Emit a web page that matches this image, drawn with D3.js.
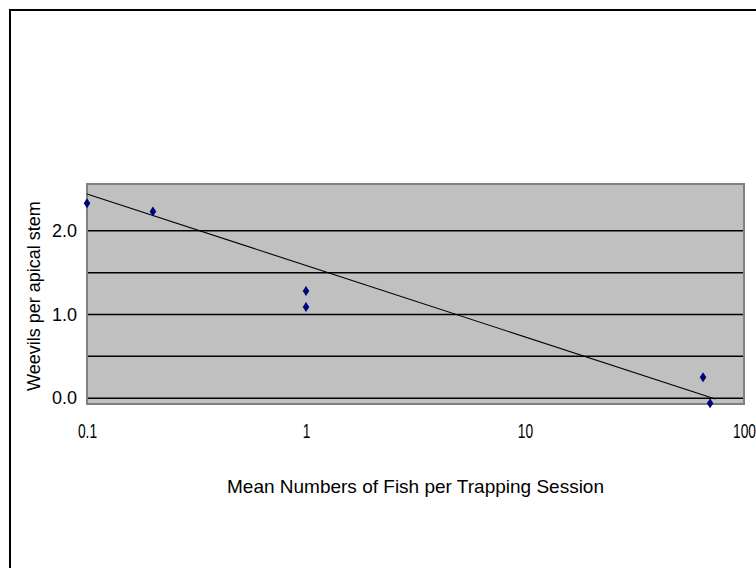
<!DOCTYPE html>
<html>
<head>
<meta charset="utf-8">
<script src="https://cdn.jsdelivr.net/npm/d3@7/dist/d3.min.js"></script>
<style>
  html, body { margin: 0; padding: 0; background: #fff; }
  svg { display: block; }
</style>
</head>
<body>
<svg id="chart" width="756" height="568"></svg>
<script>
// ---- data ----
const fishMeans = [0.1, 0.2, 1, 1, 65, 70];
const weevilsPerStem = [2.33, 2.23, 1.28, 1.09, 0.25, -0.06];
const trendFish = [0.1, 74];
const trendWeevils = [2.44, -0.01];
const xTickValues = [0.1, 1, 10, 100];
const xTickLabels = ["0.1", "1", "10", "100"];
const yTickValues = [0, 1, 2];
const yTickLabels = ["0.0", "1.0", "2.0"];
const gridValues = [0, 0.5, 1, 1.5, 2];
const xTitle = "Mean Numbers of Fish per Trapping Session";
const yTitle = "Weevils per apical stem";

// ---- layout ----
const svg = d3.select("#chart");
const plot = { left: 87, right: 744, top: 184, bottom: 404 };

const x = d3.scaleLog().domain([0.1, 100]).range([plot.left, plot.right]);
const y = d3.scaleLinear().domain([-0.07, 2.56]).range([plot.bottom, plot.top]);

// outer chart frame
svg.append("rect")
  .attr("x", 10).attr("y", 10)
  .attr("width", 770).attr("height", 580)
  .attr("fill", "#fff")
  .attr("stroke", "#000").attr("stroke-width", 2);

// plot area
svg.append("rect")
  .attr("x", plot.left).attr("y", plot.top)
  .attr("width", plot.right - plot.left).attr("height", plot.bottom - plot.top)
  .attr("fill", "#c0c0c0");

// gridlines
svg.append("g").selectAll("line").data(gridValues).join("line")
  .attr("x1", plot.left).attr("x2", plot.right)
  .attr("y1", d => y(d)).attr("y2", d => y(d))
  .attr("stroke", "#000").attr("stroke-width", 1.5);

// plot border
svg.append("rect")
  .attr("x", plot.left).attr("y", plot.top)
  .attr("width", plot.right - plot.left).attr("height", plot.bottom - plot.top)
  .attr("fill", "none")
  .attr("stroke", "#808080").attr("stroke-width", 2);

// trend line
const trend = trendFish.map((f, i) => [f, trendWeevils[i]]);
svg.append("path")
  .datum(trend)
  .attr("d", d3.line().x(d => x(d[0])).y(d => y(d[1])))
  .attr("fill", "none").attr("stroke", "#000").attr("stroke-width", 1.1);

// markers (diamonds)
const pts = fishMeans.map((f, i) => [f, weevilsPerStem[i]]);
svg.append("g").selectAll("path").data(pts).join("path")
  .attr("transform", d => `translate(${x(d[0])},${y(d[1])})`)
  .attr("d", "M0,-5L3.3,0L0,5L-3.3,0Z")
  .attr("fill", "#000080");

// x axis
const xAxis = svg.append("g")
  .attr("transform", `translate(0,${plot.bottom})`)
  .call(d3.axisBottom(x).tickValues(xTickValues).tickSize(0)
    .tickFormat((d, i) => xTickLabels[i]));
xAxis.select(".domain").remove();
const xText = xAxis.selectAll("text")
  .attr("y", 0).attr("dy", 0)
  .attr("fill", "#000")
  .style("font-family", "'Liberation Sans Narrow', 'Arial Narrow', 'Liberation Sans', Arial, sans-serif")
  .style("font-size", "20px");

// condense labels to the reference's narrow look (depends on whether a narrow face exists)
(function () {
  const probe = svg.append("text").text("100")
    .style("font-family", "'Liberation Sans', Arial, sans-serif").style("font-size", "20px");
  const wide = probe.node().getComputedTextLength();
  probe.remove();
  const narrow = xText.filter((d, i) => i === 3).node().getComputedTextLength();
  const targetWidth = 23; // width of "100" in the reference
  const sx = targetWidth / narrow;
  xText.attr("transform", `translate(0,33.5) scale(${sx},1)`);
})();

// y axis
const yAxis = svg.append("g")
  .attr("transform", `translate(${plot.left},0)`)
  .call(d3.axisLeft(y).tickValues(yTickValues).tickSize(0).tickPadding(10)
    .tickFormat((d, i) => yTickLabels[i]));
yAxis.select(".domain").remove();
yAxis.selectAll("text")
  .attr("fill", "#000")
  .style("font-family", "'Liberation Sans', Arial, sans-serif")
  .style("font-size", "18px");

// axis titles
svg.append("text")
  .attr("x", (plot.left + plot.right) / 2).attr("y", 493)
  .attr("text-anchor", "middle")
  .style("font-family", "'Liberation Sans', Arial, sans-serif")
  .style("font-size", "19px")
  .text(xTitle);

svg.append("text")
  .attr("transform", `translate(40,${(plot.top + plot.bottom) / 2 + 2}) rotate(-90)`)
  .attr("text-anchor", "middle")
  .style("font-family", "'Liberation Sans', Arial, sans-serif")
  .style("font-size", "18px")
  .text(yTitle);
</script>
</body>
</html>
